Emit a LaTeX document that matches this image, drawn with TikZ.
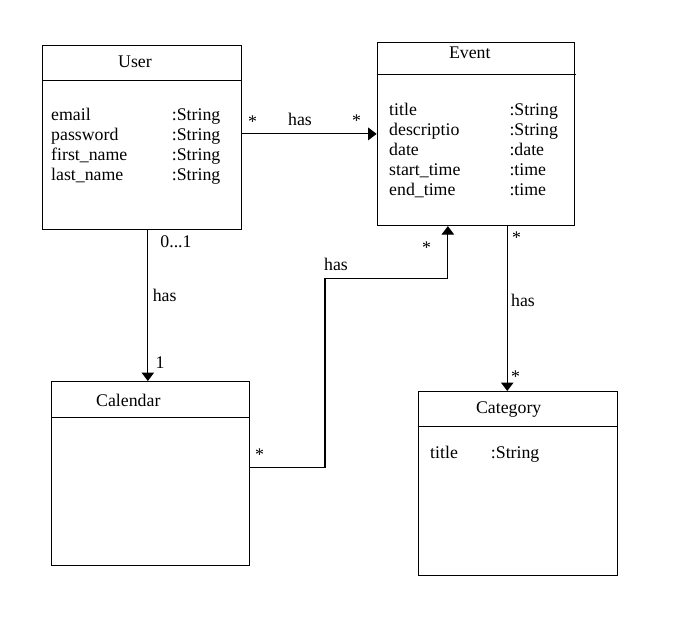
\documentclass[tikz,border=0pt]{standalone}
\usepackage{fontspec}
\setmainfont{Liberation Serif}
\usetikzlibrary{arrows.meta}
\begin{document}
\begin{tikzpicture}[x=1pt,y=-1pt,
  umlbox/.style={draw, line width=1.1pt, anchor=north west, inner sep=0pt},
  txt/.style={inner sep=0pt, font=\fontsize{17.8}{20}\selectfont},
  attr/.style={txt, anchor=base west},
  lbl/.style={txt, anchor=base},
  star/.style={txt, anchor=north},
  conn/.style={line width=1.1pt, -{Triangle[width=12.5pt,length=8.5pt]}},
  hline/.style={line width=1.1pt}]
\useasboundingbox (0,0) rectangle (684,625);

% boxes
\node[umlbox, minimum width=198.4pt, minimum height=184pt] (user) at (42.3,45.3) {};
\node[umlbox, minimum width=197.6pt, minimum height=183.3pt] (event) at (376.7,41.7) {};
\node[umlbox, minimum width=197.6pt, minimum height=184pt] (calendar) at (51.2,381) {};
\node[umlbox, minimum width=198.4pt, minimum height=184pt] (category) at (418.3,391) {};

% header lines
\draw[hline] ([yshift=-35.4pt]user.north west) -- ([yshift=-35.4pt]user.north east);
\draw[hline] ([yshift=-32.6pt]event.north west) -- ([yshift=-32.6pt,xshift=1pt]event.north east);
\draw[hline] ([yshift=-36.3pt]calendar.north west) -- ([yshift=-36.3pt]calendar.north east);
\draw[hline] ([yshift=-35.7pt]category.north west) -- ([yshift=-35.7pt]category.north east);

% titles
\node[lbl] (usert) at (135,67.3) {User};
\node[lbl] (eventt) at (469.8,58.3) {Event};
\node[lbl] (calt) at (128.3,406) {Calendar};
\node[lbl] (catt) at (508.7,413) {Category};

% User attributes
\node[attr] (u1) at (51,120.3) {email};
\node[attr] (u2) at (51,140.3) {password};
\node[attr] (u3) at (51,160.3) {first\_name};
\node[attr] (u4) at (51,180.3) {last\_name};
\node[attr] (u1t) at (171.7,120.3) {:String};
\node[attr] (u2t) at (171.7,140.3) {:String};
\node[attr] (u3t) at (171.7,160.3) {:String};
\node[attr] (u4t) at (171.7,180.3) {:String};

% Event attributes
\node[attr] (e1) at (389,115) {title};
\node[attr] (e2) at (389,135) {descriptio};
\node[attr] (e3) at (389,155) {date};
\node[attr] (e4) at (389,175) {start\_time};
\node[attr] (e5) at (389,195) {end\_time};
\node[attr] (e1t) at (509.3,115) {:String};
\node[attr] (e2t) at (509.3,135) {:String};
\node[attr] (e3t) at (509.3,155) {:date};
\node[attr] (e4t) at (509.3,175) {:time};
\node[attr] (e5t) at (509.3,195) {:time};

% Category attributes
\node[attr] (c1) at (430,458) {title};
\node[attr] (c1t) at (490.7,458) {:String};

% connectors
\draw[conn] (user.east |- event.west) -- (event.west);
\draw[conn] ([xshift=5.8pt]user.south) -- ([xshift=5.8pt]user.south |- calendar.north);
\coordinate (bend) at (325,278.3);
\draw[conn] ([yshift=6.5pt]calendar.east) -| (bend) -| ([xshift=-28.2pt]event.south);
\draw[conn] ([xshift=31.2pt]event.south) -- ([xshift=31.2pt]event.south |- category.north);

% connector labels
\node[star] (s1) at (252.5,116) {*};
\node[lbl] (h1) at (300,125) {has};
\node[star] (s2) at (356.5,115) {*};

\node[lbl] (m1) at (176,247) {0...1};
\node[lbl] (h2) at (164.7,301.5) {has};
\node[lbl] (m2) at (160,368) {1};

\node[star] (s3) at (259.5,449) {*};
\node[lbl] (h3) at (336,270) {has};
\node[star] (s4) at (426.5,242) {*};

\node[star] (s5) at (516.5,232) {*};
\node[lbl] (h4) at (523,306.5) {has};
\node[star] (s6) at (515.5,371) {*};
\end{tikzpicture}
\end{document}
